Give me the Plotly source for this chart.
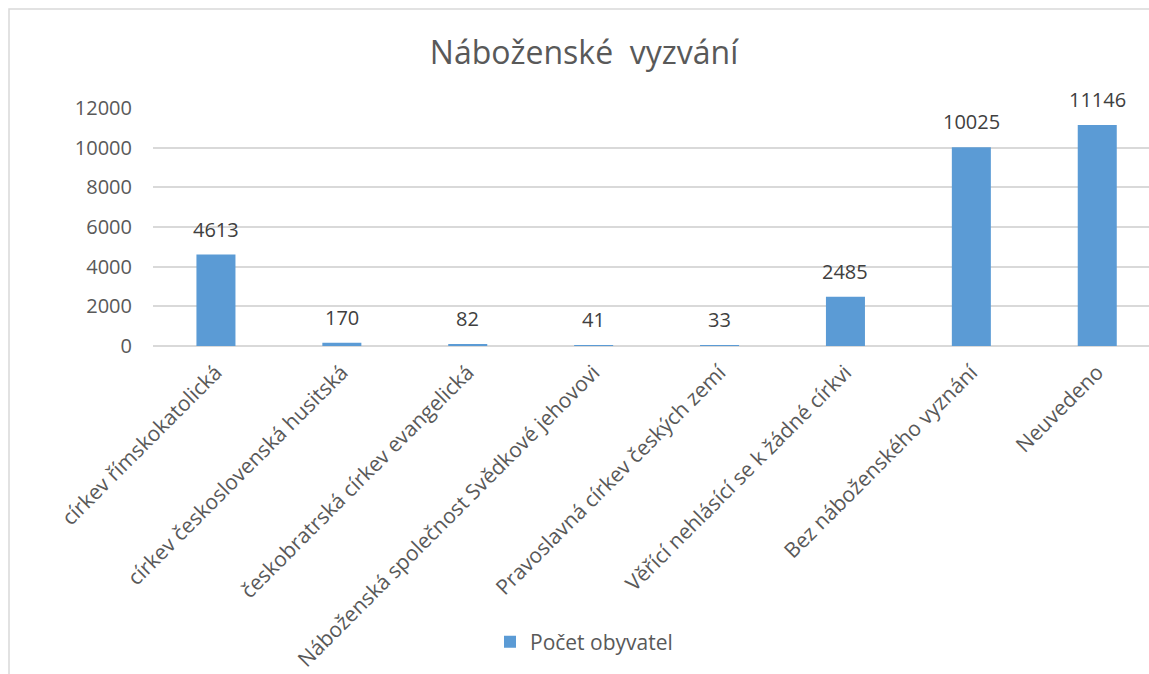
import plotly.graph_objects as go

categories = [
    "církev římskokatolická",
    "církev československá husitská",
    "českobratrská církev evangelická",
    "Náboženská společnost Svědkové jehovovi",
    "Pravoslavná církev českých zemí",
    "Věřící nehlásící se k žádné církvi",
    "Bez náboženského vyznání",
    "Neuvedeno",
]
values = [4613, 170, 82, 41, 33, 2485, 10025, 11146]
y_ticks = [0, 2000, 4000, 6000, 8000, 10000, 12000]
series_name = "Počet obyvatel"
title_text = "Náboženské  vyzvání"

FONT = "Open Sans"
W, H = 1149, 674
L, R, T, B = 153, 0, 108, 328
pw, ph = W - L - R, H - T - B

fig = go.Figure()
fig.add_trace(go.Bar(
    x=categories, y=values, name=series_name,
    marker=dict(color="#5B9BD5", line=dict(width=0)),
    width=0.31, showlegend=True,
))

for c, v in zip(categories, values):
    fig.add_annotation(x=c, y=v, text=str(v), showarrow=False, yanchor="bottom",
                       yshift=10, font=dict(family=FONT, size=20, color="#404040"))

fig.add_shape(type="rect", xref="paper", yref="paper",
              x0=(9 - L) / pw, x1=(W + 10 - L) / pw,
              y0=(H - B - (H + 10)) / ph, y1=(H - B - 9) / ph,
              line=dict(color="#D9D9D9", width=1.5), fillcolor="rgba(0,0,0,0)", layer="below")

fig.update_layout(
    width=W, height=H,
    margin=dict(l=L, r=R, t=T, b=B, autoexpand=False),
    paper_bgcolor="white", plot_bgcolor="white",
    title=dict(text=title_text, x=584 / W, xanchor="center",
               y=1 - 53 / H, yanchor="middle",
               font=dict(family=FONT, size=32, color="#595959")),
    font=dict(family=FONT, color="#595959"),
    showlegend=True,
    legend=dict(orientation="h", x=(584 - L) / pw, xanchor="center",
                y=(H - B - 642) / ph, yanchor="middle",
                font=dict(family=FONT, size=21, color="#595959")),
    xaxis=dict(range=[-0.5, -0.5 + pw / 125.9], tickangle=-45, showgrid=False,
               showline=False, ticks="", ticklabelstandoff=9,
               tickfont=dict(family=FONT, size=21, color="#595959")),
    yaxis=dict(range=[0, 12000], tickvals=y_ticks, ticktext=[str(t) for t in y_ticks],
               showgrid=True, gridcolor="#D9D9D9", gridwidth=1.5, zeroline=True,
               zerolinecolor="#D9D9D9", zerolinewidth=1.5, showline=False, ticks="",
               ticklabelstandoff=20,
               tickfont=dict(family=FONT, size=20, color="#595959")),
    bargap=0.69,
)

fig.write_html("out.html", config={"displayModeBar": False},
               post_script="document.body.style.margin='0';document.body.style.overflow='hidden';")
